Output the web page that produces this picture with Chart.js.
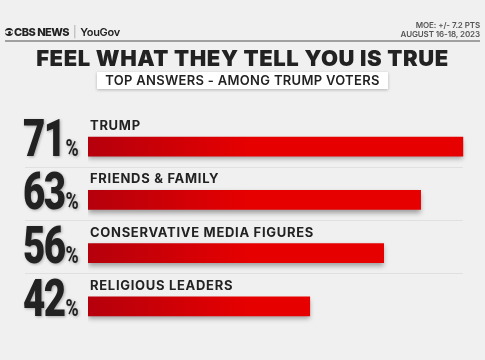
<!DOCTYPE html>
<html>
<head>
<meta charset="utf-8">
<script src="https://cdn.jsdelivr.net/npm/chart.js@4"></script>
<style>
  html,body{margin:0;padding:0;width:485px;height:360px;background:#f0f0f0;overflow:hidden;font-family:Inter, "Open Sans", sans-serif;}
  #wrap{position:relative;width:485px;height:360px;}
  canvas{position:absolute;left:0;top:0;}
  .brand{position:absolute;left:5px;top:25px;font-size:11px;font-weight:800;color:#222;letter-spacing:-0.5px;white-space:nowrap;display:flex;align-items:center;}
  .eye{display:inline-block;width:8px;height:8px;border-radius:50%;background:#222;position:relative;margin-right:1px;}
  .eye:before{content:"";position:absolute;left:0;top:2px;width:8px;height:4px;border-radius:50%;background:#f0f0f0;}
  .eye:after{content:"";position:absolute;left:2.5px;top:2.5px;width:3px;height:3px;border-radius:50%;background:#222;}
  .sep{color:#aaa;font-weight:400;margin:0 4px 0 4px;}
  .yg{font-weight:600;letter-spacing:-0.3px;}
  .meta{position:absolute;right:5px;top:21px;text-align:right;font-size:8px;line-height:8.5px;font-weight:600;color:#555;letter-spacing:-0.1px;white-space:nowrap;}
  .rule{position:absolute;left:5px;top:40px;width:475px;height:2px;background:#a0a0a0;z-index:5;}
  .title{position:absolute;left:0;width:485px;top:45px;text-align:center;font-size:22px;font-weight:900;color:#222;letter-spacing:0.6px;white-space:nowrap;}
  .sub{position:absolute;left:97px;top:72px;width:291px;height:17px;background:#fff;box-shadow:0 1px 3px rgba(0,0,0,0.25);text-align:center;font-size:13px;line-height:17px;font-weight:600;color:#222;letter-spacing:0.3px;white-space:nowrap;}
</style>
</head>
<body>
<div id="wrap">
  <canvas id="c" width="485" height="360"></canvas>
  <div class="brand"><span class="eye"></span>CBS NEWS<span class="sep">|</span><span class="yg">YouGov</span></div>
  <div class="meta">MOE: +/- 7.2 PTS<br>AUGUST 16-18, 2023</div>
  <div class="rule"></div>
  <div class="title">FEEL WHAT THEY TELL YOU IS TRUE</div>
  <div class="sub">TOP ANSWERS - AMONG TRUMP VOTERS</div>
</div>
<script>
const categories = ["TRUMP", "FRIENDS & FAMILY", "CONSERVATIVE MEDIA FIGURES", "RELIGIOUS LEADERS"];
const values = [71, 63, 56, 42];
const axisMax = 75;

const rowDecor = {
  id: 'rowDecor',
  beforeDatasetsDraw(chart) {
    const {ctx} = chart;
    const y = chart.scales.y, x = chart.scales.x;
    ctx.save();
    ctx.strokeStyle = '#e0e0e0';
    ctx.lineWidth = 1;
    for (let i = 0; i < categories.length - 1; i++) {
      const yy = Math.round((y.getPixelForValue(i) + y.getPixelForValue(i + 1)) / 2 - 6.5) + 0.5;
      ctx.beginPath();
      ctx.moveTo(25, yy);
      ctx.lineTo(x.getPixelForValue(Math.max(...values)), yy);
      ctx.stroke();
    }
    ctx.restore();
    ctx.save();
    ctx.shadowColor = 'rgba(0,0,0,0.35)';
    ctx.shadowBlur = 5;
    ctx.shadowOffsetY = 3;
  },
  afterDatasetsDraw(chart) {
    const {ctx} = chart;
    ctx.restore();
    const meta = chart.getDatasetMeta(0);
    meta.data.forEach((bar, i) => {
      const top = bar.y - bar.height / 2;
      const bottom = bar.y + bar.height / 2;
      ctx.save();
      ctx.fillStyle = '#222';
      ctx.font = '700 13px Inter';
      ctx.letterSpacing = '0.7px';
      ctx.textBaseline = 'alphabetic';
      ctx.textAlign = 'left';
      ctx.fillText(categories[i], chart.chartArea.left + 2, top - 7);
      ctx.restore();
      ctx.save();
      ctx.fillStyle = '#222';
      ctx.shadowColor = 'rgba(0,0,0,0.3)';
      ctx.shadowBlur = 3;
      ctx.shadowOffsetX = 1;
      ctx.shadowOffsetY = 1;
      ctx.textBaseline = 'alphabetic';
      ctx.translate(23, bottom);
      ctx.scale(0.74, 1);
      ctx.font = '900 52px Roboto';
      ctx.letterSpacing = '-2px';
      const num = String(values[i]);
      ctx.fillText(num, 0, 0);
      const w = ctx.measureText(num).width;
      ctx.font = '700 24px Roboto';
      ctx.letterSpacing = '0px';
      ctx.fillText('%', w + 1, 0);
      ctx.restore();
    });
  }
};

new Chart(document.getElementById('c'), {
  type: 'bar',
  data: {
    labels: categories,
    datasets: [{
      data: values,
      barThickness: 19,
      borderWidth: 0,
      backgroundColor: (c) => {
        const chart = c.chart;
        const area = chart.chartArea;
        if (!area) return '#e60000';
        const g = chart.ctx.createLinearGradient(area.left, 0, area.left + 160, 0);
        g.addColorStop(0, '#b5000c');
        g.addColorStop(1, '#e60000');
        return g;
      }
    }]
  },
  options: {
    indexAxis: 'y',
    responsive: false,
    animation: false,
    layout: {padding: {left: 88, right: 1, top: 120, bottom: 27}},
    scales: {
      x: {display: false, min: 0, max: axisMax},
      y: {display: false}
    },
    plugins: {legend: {display: false}, tooltip: {enabled: false}, title: {display: false}}
  },
  plugins: [rowDecor]
});
</script>
</body>
</html>
